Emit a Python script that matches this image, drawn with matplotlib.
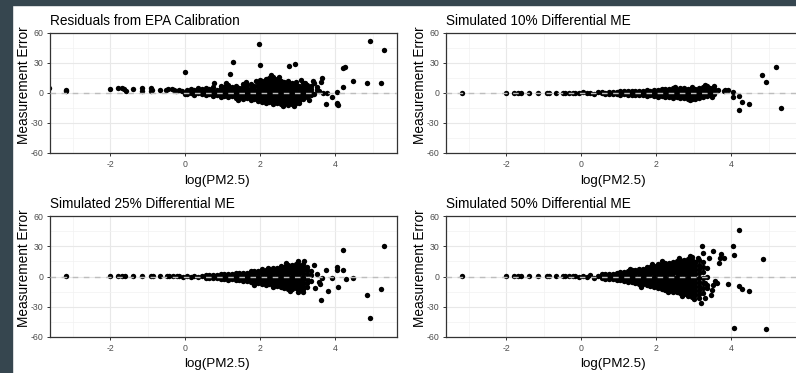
import matplotlib
matplotlib.use("Agg")
import matplotlib.pyplot as plt
from matplotlib.patches import Rectangle
from matplotlib.ticker import MultipleLocator

plt.rcParams["font.family"] = ["Liberation Sans", "DejaVu Sans"]
plt.rcParams["axes.unicode_minus"] = False

titles = [
    "Residuals from EPA Calibration",
    "Simulated 10% Differential ME",
    "Simulated 25% Differential ME",
    "Simulated 50% Differential ME",
]

# low-PM monitors shared by the simulated panels (errors near zero there)
low_pm_x = [-3.17, -2.0, -1.8, -1.69, -1.6, -1.4, -1.16, -0.91, -0.85, -0.67, -0.49, -0.43, -0.31, -0.22]
low_pm_sim_y = [0.5, 0.3, 0.3, 0.3, 0.3, 0.3, 0.3, 0.3, 0.2, 0.3, 0.2, 0.3, 0.2, 0.3]

# isolated points and ragged edges of the point clouds
epa_tail = [
    (-3.62, 5), (-3.18, 3.5), (-3.18, 2),
    (-2.0, 4), (-1.8, 5), (-1.68, 5.3), (-1.62, 3.7), (-1.58, 2.3),
    (-1.4, 4), (-1.16, 4.7), (-1.16, 2), (-0.91, 4.7), (-0.88, 3.5), (-0.91, 2.3),
    (-0.68, 3), (-0.51, 3), (-0.46, 3.7), (-0.36, 3.7), (-0.29, 3), (-0.23, 2.3),
    (-0.15, 3), (-0.08, 2), (0.0, 21), (0.0, -0.5), (0.76, 9.7),
    (1.2, 19), (1.29, 31.3), (1.97, 49.3), (2.0, 28.3), (2.0, 13.3), (2.76, 27.3), (2.93, 29.3),
    (3.03, -9.7), (3.2, 10.3), (3.4, 12.3), (3.45, 9.7), (3.51, 6.3), (3.64, 14.7), (3.63, 11.3),
    (3.51, 3), (3.57, 2), (3.69, 0.3), (3.78, 0.3), (3.76, -10.7), (3.91, -3.7), (4.06, 1),
    (4.05, -9.7), (4.08, -12.3), (4.06, -11), (4.22, 5.7), (4.22, 25.3), (4.27, 26.3),
    (4.47, 12.3), (4.92, 52.3), (4.84, 10.3), (5.22, 10.3), (5.31, 43),
    (1.1, 10), (1.4, -7), (1.62, 11), (1.9, 12.5), (2.3, 18), (2.5, 16.5), (2.6, -13),
    (2.9, -13), (3.1, 13), (3.3, -7), (3.45, -1),
]

sim10_tail = [
    (3.66, 3), (3.8, 2), (3.84, 2.7), (3.93, 3), (4.06, 1.3), (4.04, -3.7), (4.21, -2.7),
    (4.28, -8.7), (4.21, -17), (4.48, -10.7), (4.83, 18), (4.93, 11.3), (5.21, 26.3), (5.33, -15),
    (2.9, -7), (3.3, 8.5), (3.5, -3.5), (2.5, 6.5),
]

sim25_tail = [
    (3.18, 15.7), (3.44, 11.7), (3.76, 6.7), (4.05, 9), (4.06, 6.7), (4.22, 6.7), (4.22, 26),
    (4.28, -2), (4.47, -1), (3.91, -1), (3.63, -23.5), (3.8, -14), (4.09, -10.7), (3.47, -11.7),
    (3.6, -7.3), (3.57, -5), (3.65, -1), (3.52, 2), (4.84, -18), (5.22, -12.7), (4.93, -41), (5.31, 30.7),
    (2.7, 13.5), (3.0, 15), (2.8, -14.5), (3.0, -15.5), (2.35, -10.5), (2.2, 8.5), (1.85, -8),
]

sim50_tail = [
    (4.22, 45.8), (4.04, 29.8), (4.09, 21.5), (4.84, 17.5), (3.22, 29.8), (3.24, 23.8), (3.53, 24.8),
    (3.41, 18.5), (3.72, 22), (3.7, 18), (3.8, 18), (3.68, 13), (3.91, -7.5), (4.21, -9.5), (4.28, -12),
    (4.48, -14.5), (3.2, -25.8), (3.3, -21), (3.52, -8.5), (3.48, -13.5), (3.46, -18.5), (3.57, -4),
    (3.62, -6), (3.35, -11), (3.3, -6), (4.09, -50.8), (4.93, -51.8), (3.12, 18), (3.05, 14),
    (2.15, 15), (2.33, -15), (2.6, 18), (2.7, -19), (2.9, 20), (3.0, -22), (1.9, 12), (1.6, -10), (1.3, 7.5),
]

# dense cores: (x, [y values seen in that narrow x slice])
epa_columns = [
    (0.05, [-1, 1.5, 3.5]), (0.15, [0, 2.5, 4.5]), (0.25, [-1.5, 1, 3]), (0.35, [0.5, 2.5, 5]),
    (0.45, [-1, 1.5, 4]), (0.55, [-2, 0.5, 3, 5.5]), (0.65, [-1, 2, 4.5]), (0.75, [-3, 0, 2.5, 6]),
    (0.85, [-2, 1, 3.5]), (0.95, [-3.5, -0.5, 2, 5, 7]), (1.05, [-2.5, 0.5, 3, 6]),
    (1.15, [-4, -1, 1.5, 4.5, 8]), (1.25, [-3, 0, 3, 6]), (1.35, [-5, -2, 1, 4, 7.5]),
    (1.45, [-4, -0.5, 2.5, 5.5]), (1.55, [-6, -3, 0, 3, 6, 9]), (1.65, [-5, -1.5, 1.5, 4.5, 8]),
    (1.75, [-7, -4, -1, 2, 5, 9.5]), (1.85, [-6, -2.5, 0.5, 3.5, 7]),
    (1.95, [-8, -5, -2, 1, 4, 7, 10]), (2.05, [-9, -6, -3, 0, 3, 6, 9, 12]),
    (2.15, [-10, -7, -4, -1, 2, 5, 8, 11, 14]), (2.25, [-9, -6, -3, 0, 3, 6, 9, 12, 15]),
    (2.35, [-11, -8, -5, -2, 1, 4, 7, 10, 13, 16]), (2.45, [-10, -7, -4, -1, 2, 5, 8, 11, 14]),
    (2.55, [-11, -8, -5, -2, 1, 4, 7, 10, 12]), (2.65, [-10, -7, -4, -1, 2, 5, 8, 11]),
    (2.75, [-12, -9, -6, -3, 0, 3, 6, 9, 12]), (2.85, [-11, -8, -5, -2, 1, 4, 7, 10]),
    (2.95, [-10, -7, -4, -1, 2, 5, 8, 11]), (3.05, [-8, -5, -2, 1, 4, 7]),
    (3.15, [-6, -3, 0, 3, 6, 10]), (3.25, [-4, -1, 2, 5, 8]), (3.35, [-2, 1, 4, 7]),
]

sim10_columns = [
    (-0.15, [0.5]), (-0.05, [-0.3]), (0.05, [0.6]), (0.15, [-0.4]), (0.25, [0.5]), (0.35, [-0.5]),
    (0.45, [0.7]), (0.55, [-0.4, 0.9]), (0.65, [-0.6, 0.5]), (0.75, [0.8, -0.5]), (0.85, [-0.8, 0.6]),
    (0.95, [-1, 1]), (1.05, [-1.5, 0.3, 1.8]), (1.15, [-1.2, 0.6, 2]), (1.25, [-1.8, 0, 1.6]),
    (1.35, [-2, -0.2, 1.8]), (1.45, [-1.5, 0.5, 2.3]), (1.55, [-2.2, -0.3, 1.7]), (1.65, [-1.8, 0.2, 2.4]),
    (1.75, [-2.5, -0.5, 1.5, 3]), (1.85, [-2.2, 0, 2.3]), (1.95, [-3, -0.8, 1.3, 3.2]),
    (2.05, [-3.5, -1.2, 1, 3.5]), (2.15, [-3.2, -0.8, 1.6, 4]), (2.25, [-4, -1.5, 1, 3.6]),
    (2.35, [-3.8, -1.2, 1.3, 4.2]), (2.45, [-4.5, -2, 0.5, 3, 5]), (2.55, [-4.2, -1.7, 0.8, 3.3]),
    (2.65, [-5, -2.5, 0, 2.5, 5]), (2.75, [-4.8, -2.2, 0.3, 2.8, 5.3]), (2.85, [-5.5, -3, -0.5, 2, 4.5]),
    (2.95, [-6.3, -3.5, -1, 1.5, 4, 6]), (3.05, [-5.5, -3, -0.5, 2, 4.5]), (3.15, [-4.5, -2, 0.5, 3, 5.5]),
    (3.25, [-3.5, -1, 1.5, 4, 6]), (3.35, [-2.5, 0, 2.5, 5, 7]), (3.45, [-2, 0.5, 3, 5.5]),
    (3.55, [-1, 2, 4.5, 7.5]),
]

sim25_columns = [
    (-0.15, [0.5]), (-0.05, [-0.4]), (0.05, [0.6]), (0.15, [-0.5]), (0.25, [0.7]), (0.35, [-0.6]),
    (0.45, [0.8]), (0.55, [-1, 1.2]), (0.65, [-1.3, 1]), (0.75, [-1.5, 1.4]), (0.85, [-1.8, 0.3, 1.8]),
    (0.95, [-2, 0, 2]), (1.05, [-2.5, 0, 2.4]), (1.15, [-3, -0.5, 2]), (1.25, [-2.8, 0, 2.8]),
    (1.35, [-3.3, -0.8, 1.8, 3.5]), (1.45, [-3.6, -1, 1.5, 3.2]), (1.55, [-4.4, -1.6, 1.2, 3.8]),
    (1.65, [-4.8, -2, 0.8, 3.6]), (1.75, [-5, -2.2, 0.6, 3.4, 5]), (1.85, [-5.5, -2.6, 0.3, 3.2, 5.5]),
    (1.95, [-6, -3, 0, 3, 5.8]), (2.05, [-7, -4, -1, 2, 5, 7]), (2.15, [-8, -5, -2, 1, 4, 6.5]),
    (2.25, [-7.5, -4.5, -1.5, 1.5, 4.5, 7.5]), (2.35, [-9, -6, -3, 0, 3, 6, 8]),
    (2.45, [-9.5, -6.5, -3.5, -0.5, 2.5, 5.5, 8.5]), (2.55, [-10, -7, -4, -1, 2, 5, 8, 10]),
    (2.65, [-11, -8, -5, -2, 1, 4, 7, 9.5]), (2.75, [-12, -9, -6, -3, 0, 3, 6, 9, 11]),
    (2.85, [-12.5, -9.5, -6.5, -3.5, -0.5, 2.5, 5.5, 8.5, 11]), (2.95, [-11, -8, -5, -2, 1, 4, 7, 10, 12]),
    (3.05, [-13, -10, -7, -4, -1, 2, 5, 8, 11]), (3.15, [-15, -12, -9, -6, -3, 0, 3, 6, 9, 12]),
    (3.25, [-10, -6, -2, 2, 6, 9]), (3.35, [-4.5, 1, 5]),
]

sim50_columns = [
    (-0.15, [0.6]), (-0.05, [-0.6]), (0.05, [0.8]), (0.15, [-0.8]), (0.25, [1]), (0.35, [-1]),
    (0.45, [0.9]), (0.55, [-1.8, 0.6, 2.2]), (0.65, [-2, 0.4, 2.5]), (0.75, [-2.5, 0, 2.4]),
    (0.85, [-2.8, -0.3, 2.6]), (0.95, [-3.2, -0.5, 2.2, 3.4]), (1.05, [-3.8, -1, 1.8, 4.2]),
    (1.15, [-4.5, -1.5, 1.5, 4.5]), (1.25, [-5, -2, 1, 4, 5.5]), (1.35, [-5.5, -2.5, 0.5, 3.5, 6]),
    (1.45, [-6, -3, 0, 3, 6]), (1.55, [-7, -4, -1, 2, 5, 7]), (1.65, [-7.5, -4.5, -1.5, 1.5, 4.5, 7.5]),
    (1.75, [-8, -5, -2, 1, 4, 7, 9]), (1.85, [-9, -6, -3, 0, 3, 6, 9]),
    (1.95, [-10, -7, -4, -1, 2, 5, 8, 10]), (2.05, [-11, -8, -5, -2, 1, 4, 7, 10, 12]),
    (2.15, [-12, -9, -6, -3, 0, 3, 6, 9, 12]), (2.25, [-13, -10, -7, -4, -1, 2, 5, 8, 11, 13]),
    (2.35, [-14, -11, -8, -5, -2, 1, 4, 7, 10, 13]), (2.45, [-15, -12, -9, -6, -3, 0, 3, 6, 9, 12, 14]),
    (2.55, [-15, -12, -9, -6, -3, 0, 3, 6, 9, 12, 15]),
    (2.65, [-16, -13, -10, -7, -4, -1, 2, 5, 8, 11, 14, 16]),
    (2.75, [-17, -14, -11, -8, -5, -2, 1, 4, 7, 10, 13, 16]),
    (2.85, [-19, -16, -13, -10, -7, -4, -1, 2, 5, 8, 11, 14, 17]),
    (2.95, [-20, -17, -14, -11, -8, -5, -2, 1, 4, 7, 10, 13, 16, 19]),
    (3.05, [-18, -14, -10, -6, -2, 2, 6, 10, 14]), (3.15, [-21, -17, -13, -9, -5, -1, 3, 7, 11, 16]),
    (3.25, [-16, -11, -6, -1, 4, 9, 14]), (3.35, [-8, 0, 8]),
]

# ---- layout (pixel boxes: left, top, right, bottom) ----
W, H = 796, 373
boxes = [(50, 33, 397, 153), (446, 33, 797, 153), (50, 216, 397, 337), (446, 216, 797, 337)]


def expand(columns):
    return [(x, y) for x, ys in columns for y in ys]


sim_low = list(zip(low_pm_x, low_pm_sim_y))
panel_points = [
    epa_tail + expand(epa_columns),
    sim_low + sim10_tail + expand(sim10_columns),
    sim_low + sim25_tail + expand(sim25_columns),
    sim_low + sim50_tail + expand(sim50_columns),
]

fig = plt.figure(figsize=(W / 100, H / 100), dpi=100)
fig.patch.set_facecolor("white")
frame = "#36464f"
fig.add_artist(Rectangle((0, 0), 12 / W, 1, transform=fig.transFigure, color=frame, zorder=0))
fig.add_artist(Rectangle((0, 1 - 5 / H), 1, 5 / H, transform=fig.transFigure, color=frame, zorder=0))

for title, pts, (l, t, r, b) in zip(titles, panel_points, boxes):
    ax = fig.add_axes([l / W, 1 - b / H, (r - l) / W, (b - t) / H])
    xs = [p[0] for p in pts]
    ys = [p[1] for p in pts]
    ax.scatter(xs, ys, s=15, c="black", linewidths=0, zorder=2)
    ax.axhline(0, color="#bdbdbd", lw=1.0, ls=(0, (4, 4)), zorder=3)

    ax.set_xlim(-3.6, -3.6 + (r - l) / 37.5)
    ax.set_ylim(-60, 60)
    ax.set_xticks([-2, 0, 2, 4])
    ax.set_yticks([-60, -30, 0, 30, 60])
    ax.xaxis.set_minor_locator(MultipleLocator(1))
    ax.yaxis.set_minor_locator(MultipleLocator(15))
    ax.set_axisbelow(True)
    ax.grid(which="major", color="#e8e8e8", lw=0.8)
    ax.grid(which="minor", color="#f1f1f1", lw=0.5)
    ax.tick_params(which="minor", length=0)
    ax.tick_params(which="major", length=2.5, width=0.7, color="#333333",
                   labelsize=6.3, labelcolor="#4d4d4d", pad=2.5)
    for sp in ax.spines.values():
        sp.set_color("#333333")
        sp.set_linewidth(0.9)

    ax.set_title(title, loc="left", fontsize=9.8, pad=6, color="black")
    ax.set_xlabel("log(PM2.5)", fontsize=9.6, labelpad=4)
    ax.set_ylabel("Measurement Error", fontsize=9.8)
    # labels in the reference sit a little left of / above the panel centre
    ax.xaxis.label.set_x(167 / (r - l))
    ax.yaxis.set_label_coords(-19 / (r - l), 0.565)

fig.savefig("out.png", dpi=100)
